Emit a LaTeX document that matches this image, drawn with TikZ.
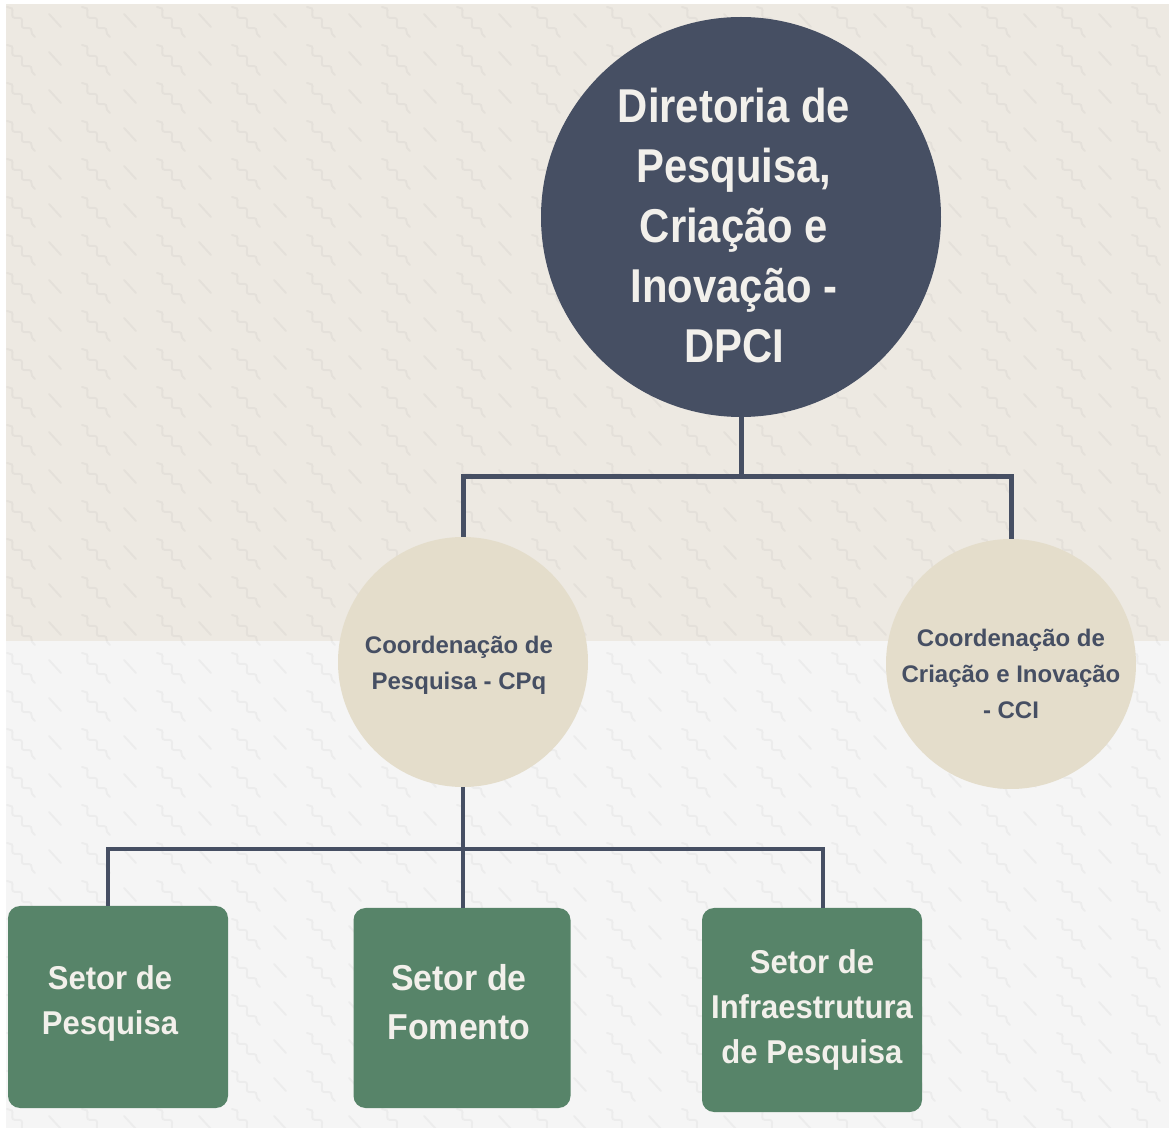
\documentclass[tikz,border=0pt]{standalone}
\usepackage{fontspec}
\setmainfont{Liberation Sans}
\newfontfamily\condfont[FakeStretch=0.88]{Liberation Sans}
\newfontfamily\medfont[FakeStretch=0.94]{Liberation Sans}
\usetikzlibrary{decorations.pathmorphing}
\definecolor{slate}{HTML}{464F63}
\definecolor{sand}{HTML}{E4DDCB}
\definecolor{topbg}{HTML}{EDE9E2}
\definecolor{botbg}{HTML}{F5F5F5}
\definecolor{boxgreen}{HTML}{578469}
\definecolor{paletext}{HTML}{F2F0EB}
\tikzset{
  maincirc/.style={circle, fill=slate, draw=none, minimum size=200pt, inner sep=0pt},
  maintext/.style={text=paletext, align=center, font=\condfont\bfseries\fontsize{23.75}{30}\selectfont},
  coordcirc/.style={circle, fill=sand, draw=none, minimum size=125pt, inner sep=0pt},
  coordtext/.style={text=slate, align=center, font=\bfseries\fontsize{12}{18}\selectfont},
  setorbox/.style={rectangle, rounded corners=6pt, fill=boxgreen, draw=none,
    minimum width=110pt, minimum height=101pt, inner sep=0pt},
  setortext/.style={text=paletext, align=center, font=\medfont\bfseries\fontsize{16.5}{22.5}\selectfont},
  conn/.style={draw=slate, line width=2.5pt, line join=miter},
  connb/.style={draw=slate, line width=2.2pt, line join=miter},
  pat/.style={draw=black, draw opacity=0.035, line width=1pt, line cap=round},
}
\begin{document}
\begin{tikzpicture}[x=0.5pt,y=-0.5pt]
\useasboundingbox (0,0) rectangle (1169,1128);
% background
\fill[white] (0,0) rectangle (1169,1128);
\fill[topbg] (6,4) rectangle (1169,641);
\fill[botbg] (6,641) rectangle (1169,1128);
\begin{scope}
\clip (6,4) rectangle (1169,1128);
\foreach \i in {0,...,15}{
  \foreach \j in {-1,...,29}{
    \draw[pat, decorate, decoration={snake, amplitude=1.3pt, segment length=7pt}]
      (\i*75+7, \j*38+7) -- (\i*75+35, \j*38+37);
    \draw[pat] (\i*75+49, \j*38+14) -- (\i*75+61, \j*38+27);
  }
}
\end{scope}
% nodes
\node[maincirc, label={[maintext, xshift=-3.5pt, yshift=-4.5pt]center:{Diretoria de\\Pesquisa,\\Criação e\\Inovação -\\DPCI}}] (dpci) at (741,217) {};
\node[coordcirc, label={[coordtext, xshift=-2pt, yshift=-1.5pt]center:{Coordenação de\\Pesquisa - CPq}}] (cpq) at (463,662) {};
\node[coordcirc, label={[coordtext, yshift=-5pt]center:{Coordenação de\\Criação e Inovação\\- CCI}}] (cci) at (1011,664) {};
\node[setorbox, label={[setortext, xshift=-4pt, yshift=2pt]center:{Setor de\\Pesquisa}}] (s1) at (118,1007) {};
\node[setorbox, minimum width=108.5pt, minimum height=100pt,
  label={[setortext, font=\medfont\bfseries\fontsize{18}{24.5}\selectfont, xshift=-1.5pt, yshift=3pt]center:{Setor de\\Fomento}}] (s2) at (462,1008) {};
\node[setorbox, minimum height=102pt, label={[setortext]center:{Setor de\\Infraestrutura\\de Pesquisa}}] (s3) at (812,1010) {};
% connectors
\coordinate (ja) at (741,477);
\draw[conn] (dpci.south) -- (ja);
\draw[conn] (cpq.north) -- (cpq.north |- ja) -- (cci.north |- ja) -- (cci.north);
\coordinate (h1) at (108,849);
\coordinate (h3) at (823,849);
\draw[connb] (cpq.south) -- (cpq.south |- s2.north);
\draw[connb] (h1 |- s1.north) -- (h1) -- (h3) -- (h3 |- s3.north);
\end{tikzpicture}
\end{document}
